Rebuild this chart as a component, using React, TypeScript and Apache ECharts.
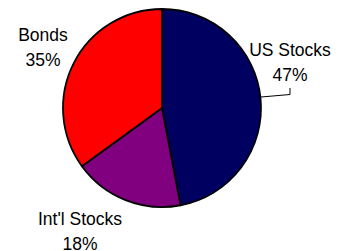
import React, { useEffect, useRef } from "react";
import * as echarts from "echarts";

const categories = ["US Stocks", "Int'l Stocks", "Bonds"];
const values = [47, 18, 35];
const colors = ["#000060", "#800080", "#FF0000"];

export default function App() {
  const ref = useRef<HTMLDivElement>(null);
  useEffect(() => {
    if (!ref.current) return;
    const chart = echarts.init(ref.current, undefined, { renderer: "svg" });
    const labelPos = [
      { x: 290, y: 62, line: [[261, 97], [290, 94.5], [290, 88]] },
      { x: 80, y: 231, line: null },
      { x: 43, y: 47, line: null },
    ];
    chart.setOption({
      animation: false,
      backgroundColor: "#ffffff",
      series: [
        {
          type: "pie",
          center: [162, 108],
          radius: 99,
          startAngle: 90,
          clockwise: true,
          itemStyle: { borderColor: "#000", borderWidth: 1.8 },
          label: {
            show: true,
            position: "outside",
            formatter: (p: any) => `${p.name}\n${p.value}%`,
            fontFamily: "Liberation Sans, Arial, sans-serif",
            fontSize: 17.5,
            lineHeight: 25,
            color: "#000",
            align: "center",
            overflow: "none",
            width: 120,
          },
          labelLine: { show: true, lineStyle: { color: "#000", width: 1 } },
          labelLayout: (params: any) => {
            const p = labelPos[params.dataIndex];
            const r: any = { x: p.x, y: p.y, align: "center", verticalAlign: "middle" };
            if (p.line) r.labelLinePoints = p.line;
            return r;
          },
          data: categories.map((c, i) => ({
            name: c,
            value: values[i],
            itemStyle: { color: colors[i] },
            labelLine: { show: i === 0 },
          })),
        },
      ],
    });
    return () => chart.dispose();
  }, []);
  return <div ref={ref} style={{ width: 340, height: 251, position: "absolute", left: 0, top: 0 }} />;
}
